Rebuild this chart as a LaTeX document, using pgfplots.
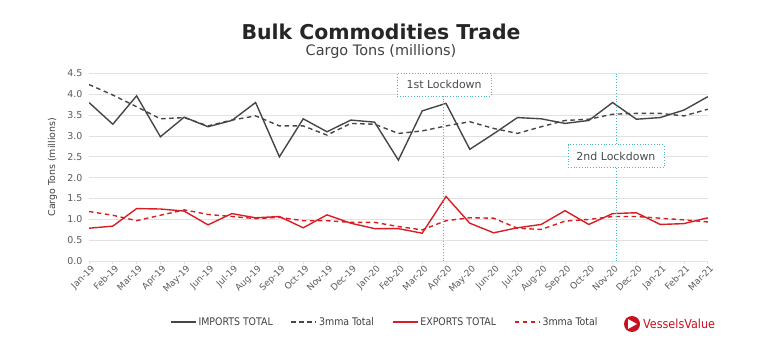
\documentclass[border=0pt]{standalone}
\usepackage{pgfplots}
\usepackage{pgfplotstable}
\pgfplotsset{compat=1.18}
\usepackage{fontspec}
\setmainfont{DejaVu Sans}
\newfontfamily\condfont{DejaVu Sans Condensed}
\definecolor{impcol}{RGB}{70,70,70}
\definecolor{expcol}{RGB}{215,30,35}
\definecolor{gridcol}{RGB}{225,225,225}
\definecolor{tickcol}{RGB}{90,90,90}
\definecolor{teal}{RGB}{70,185,185}
\definecolor{vvred}{RGB}{200,16,30}
\pgfplotstableread{
i imp impma exp expma
0 3.80 4.23 0.79 1.19
1 3.28 3.98 0.84 1.10
2 3.96 3.70 1.26 0.97
3 2.98 3.41 1.25 1.10
4 3.45 3.44 1.20 1.23
5 3.22 3.24 0.87 1.12
6 3.37 3.38 1.14 1.07
7 3.80 3.48 1.04 1.02
8 2.50 3.24 1.07 1.05
9 3.41 3.24 0.80 0.97
10 3.10 3.02 1.11 0.97
11 3.38 3.30 0.91 0.93
12 3.33 3.28 0.78 0.93
13 2.42 3.06 0.78 0.83
14 3.60 3.12 0.67 0.75
15 3.78 3.24 1.55 0.97
16 2.68 3.34 0.91 1.04
17 3.05 3.18 0.68 1.03
18 3.44 3.06 0.80 0.79
19 3.41 3.22 0.88 0.76
20 3.30 3.37 1.21 0.96
21 3.37 3.40 0.88 1.00
22 3.80 3.52 1.14 1.07
23 3.40 3.54 1.16 1.07
24 3.44 3.54 0.88 1.03
25 3.62 3.48 0.90 0.99
26 3.94 3.64 1.04 0.94
}\datatable
\begin{document}
\begin{tikzpicture}
\path[use as bounding box] (0,0) rectangle (771bp,351bp);
\node[font=\fontsize{20.5}{22}\selectfont\bfseries, text=black!85] at (381bp,319bp) {Bulk Commodities Trade};
\node[font=\fontsize{14.5}{16}\selectfont, text=black!75] at (381bp,299bp) {Cargo Tons (millions)};
\begin{axis}[
  at={(89bp,89.8bp)}, anchor=south west,
  scale only axis, width=618.8bp, height=187.9bp,
  xmin=0, xmax=26, ymin=0, ymax=4.5,
  xtick={0,...,26},
  xticklabels={Jan-19,Feb-19,Mar-19,Apr-19,May-19,Jun-19,Jul-19,Aug-19,Sep-19,Oct-19,Nov-19,Dec-19,Jan-20,Feb-20,Mar-20,Apr-20,May-20,Jun-20,Jul-20,Aug-20,Sep-20,Oct-20,Nov-20,Dec-20,Jan-21,Feb-21,Mar-21},
  ytick={0,0.5,...,4.5},
  /pgf/number format/assume math mode=true,
  yticklabel style={/pgf/number format/.cd, fixed, fixed zerofill, precision=1, /tikz/.cd, font=\fontsize{9.5}{11}\selectfont, text=tickcol},
  xticklabel style={rotate=45, anchor=north east, font=\fontsize{9}{10}\selectfont, text=tickcol, inner sep=1pt, xshift=2bp},
  ymajorgrids, grid style={gridcol, line width=0.8pt},
  axis x line*=bottom, axis y line*=left,
  x axis line style={gridcol, line width=0.8pt},
  y axis line style={draw=none},
  ytick style={draw=none},
  xtick style={gridcol, line width=0.8pt},
  tick align=outside, major tick length=3bp,
  ylabel={Cargo Tons (millions)},
  ylabel style={font=\fontsize{9.5}{11}\selectfont, text=black!75, at={(axis description cs:-0.059,0.5)}, anchor=center},
  legend style={at={(0.478,-0.324)}, anchor=center, draw=none, legend columns=-1,
     font=\condfont\fontsize{10.5}{12}\selectfont, text=black!75,
     /tikz/every even column/.append style={column sep=16bp}},
  legend image code/.code={\draw[#1] (0bp,0bp) -- (25bp,0bp);},
]
\addplot[impcol, line width=1.4pt] table[x=i, y=imp] {\datatable};
\addlegendentry{IMPORTS TOTAL}
\addplot[impcol, line width=1.4pt, dash pattern=on 4.5bp off 3.5bp] table[x=i, y=impma] {\datatable};
\addlegendentry{3mma Total}
\addplot[expcol, line width=1.4pt] table[x=i, y=exp] {\datatable};
\addlegendentry{EXPORTS TOTAL}
\addplot[expcol, line width=1.4pt, dash pattern=on 4.5bp off 3.5bp] table[x=i, y=expma] {\datatable};
\addlegendentry{3mma Total}
\draw[teal, dotted, line width=0.8pt] (axis cs:14.87,0) -- (axis cs:14.87,4.5);
\draw[teal, dotted, line width=0.8pt] (axis cs:22.14,0) -- (axis cs:22.14,4.5);
\node[draw=teal, dotted, line width=0.8pt, fill=white, font=\fontsize{11}{13}\selectfont, text=black!70, minimum width=94bp, minimum height=23bp, inner sep=2bp] at (axis cs:14.92,4.23) {1st Lockdown};
\node[draw=teal, dotted, line width=0.8pt, fill=white, font=\fontsize{11}{13}\selectfont, text=black!70, minimum width=96bp, minimum height=23bp, inner sep=2bp] at (axis cs:22.14,2.51) {2nd Lockdown};
\end{axis}
\fill[vvred] (632bp,27bp) circle (8bp);
\fill[white] (628bp,32bp) -- (637bp,27bp) -- (628bp,22bp) -- cycle;
\node[anchor=west, text=vvred, font=\condfont\fontsize{12.5}{14}\selectfont, inner sep=0pt] at (643bp,27bp) {VesselsValue};
\end{tikzpicture}
\end{document}
